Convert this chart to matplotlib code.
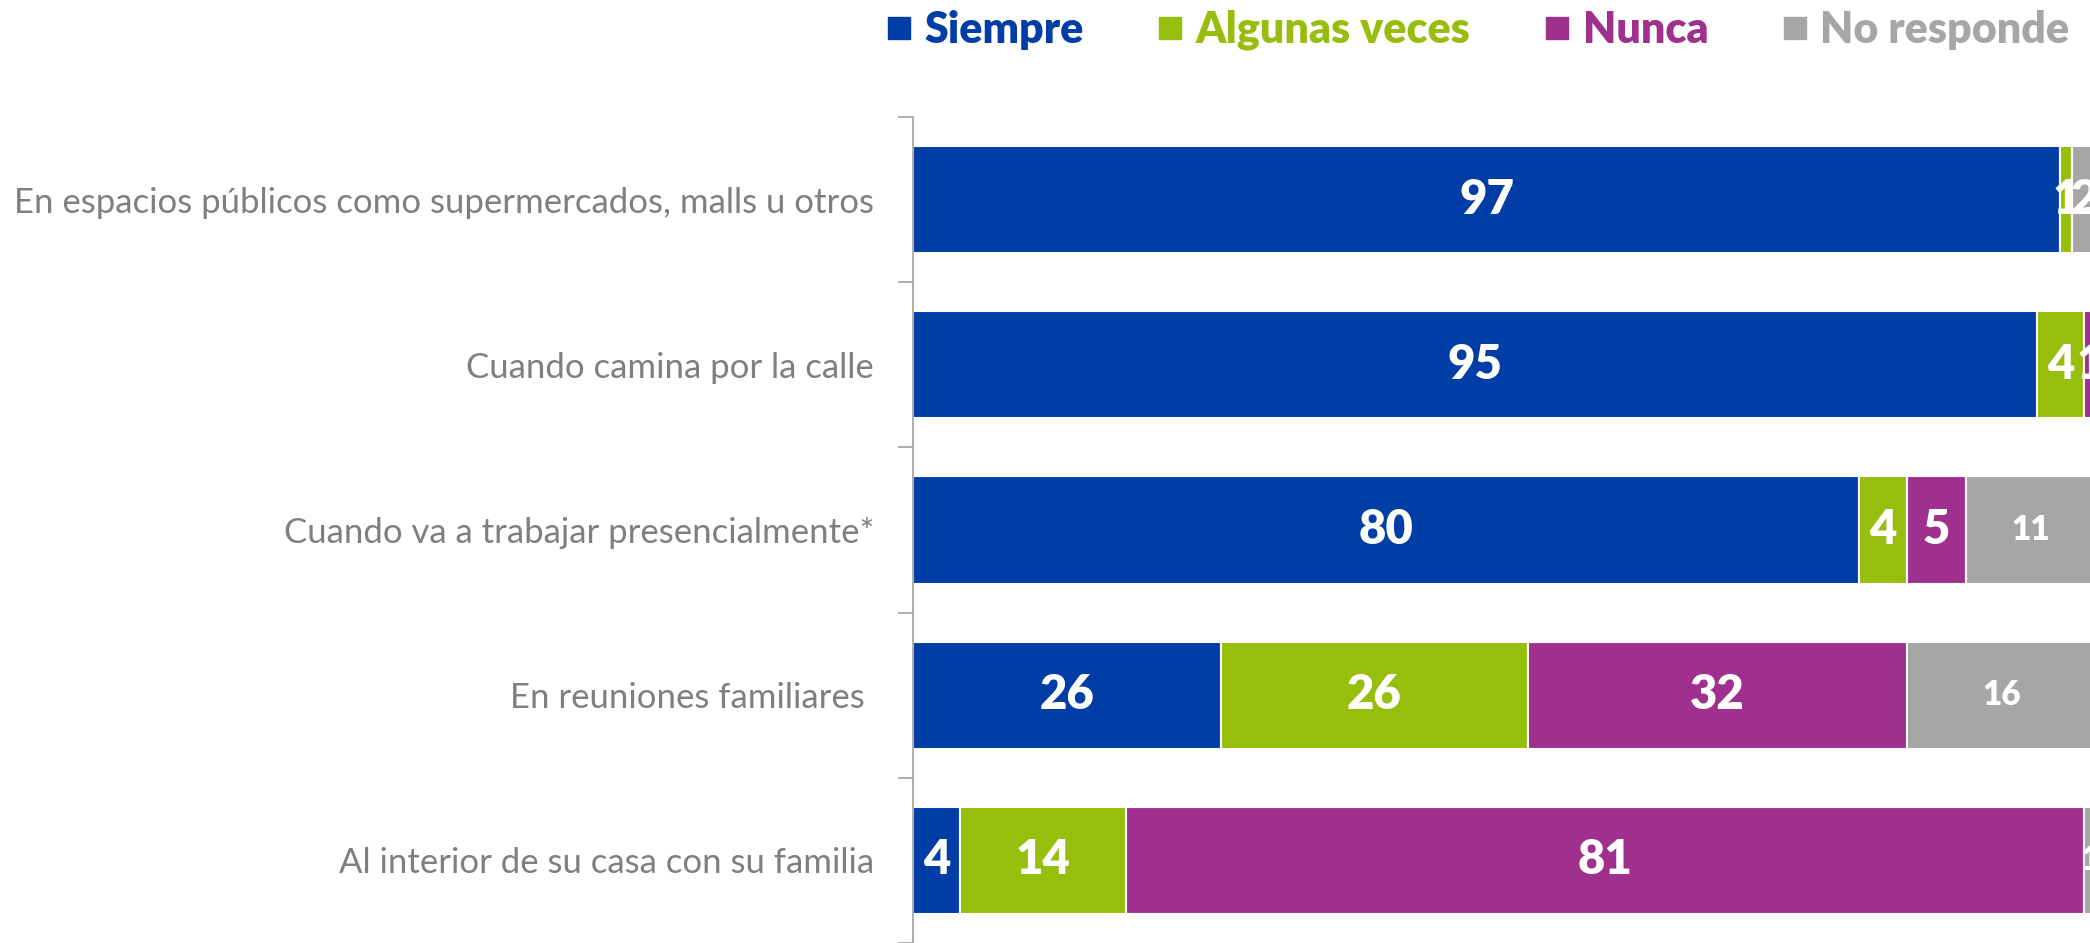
import matplotlib
matplotlib.use('Agg')
import matplotlib.pyplot as plt
from matplotlib.lines import Line2D
import numpy as np

plt.rcParams['font.family'] = ['Lato', 'DejaVu Sans']

# data
categories = [
    'En espacios públicos como supermercados, malls u otros',
    'Cuando camina por la calle',
    'Cuando va a trabajar presencialmente*',
    'En reuniones familiares ',
    'Al interior de su casa con su familia',
]
series = ['Siempre', 'Algunas veces', 'Nunca', 'No responde']
siempre = [97, 95, 80, 26, 4]
algunas_veces = [1, 4, 4, 26, 14]
nunca = [0, 1, 5, 32, 81]
no_responde = [2, 0, 11, 16, 1]

colors = ['#003DA5', '#97BE0D', '#A0308E', '#A6A6A6']
values = [siempre, algunas_veces, nunca, no_responde]
# label font sizes per series / per row (grey labels are smaller, except row 1)
label_sizes = [[34] * 5, [34] * 5, [34] * 5, [34, 24, 24, 24, 24]]

fig = plt.figure(figsize=(20.9, 9.43), dpi=100)
ax = fig.add_axes([913 / 2090, 0.0, 1 - 913 / 2090, 1 - 117 / 943])

y = np.arange(len(categories))
left = np.zeros(len(categories))
for vals, col, sizes in zip(values, colors, label_sizes):
    vals = np.array(vals, dtype=float)
    bars = ax.barh(y, vals, left=left, height=0.65, color=col,
                   edgecolor='white', linewidth=1.5)
    for b, v, fs in zip(bars, vals, sizes):
        if v > 0:
            ax.text(b.get_x() + b.get_width() / 2, b.get_y() + b.get_height() / 2,
                    f'{int(v)}', ha='center', va='center', color='white',
                    fontsize=fs, fontweight='heavy', clip_on=True)
    left += vals

ax.set_xlim(0, 99.5)
ax.set_ylim(len(categories) - 0.5, -0.5)
ax.set_yticks(y)
ax.set_yticklabels(categories, fontsize=25, color='#7F7F7F')
ax.tick_params(axis='y', which='major', length=0, pad=28)
ax.set_yticks(np.arange(-0.5, len(categories)), minor=True)
ax.tick_params(axis='y', which='minor', length=11, color='#A0A0A0', width=1.2)
ax.xaxis.set_visible(False)
for s in ['top', 'right', 'bottom']:
    ax.spines[s].set_visible(False)
ax.spines['left'].set_color('#A0A0A0')
ax.spines['left'].set_linewidth(1.2)

handles = [Line2D([], [], marker='s', linestyle='none', markersize=16,
                  markerfacecolor=c, markeredgecolor=c) for c in colors]
fig.legend(handles, series, loc='center', bbox_to_anchor=(0.706, 0.968),
           ncol=4, frameon=False, labelcolor=colors,
           prop={'size': 31, 'weight': 'heavy'}, handletextpad=0.2,
           columnspacing=1.6, handlelength=0.8)

fig.savefig('out.png', dpi=100)
